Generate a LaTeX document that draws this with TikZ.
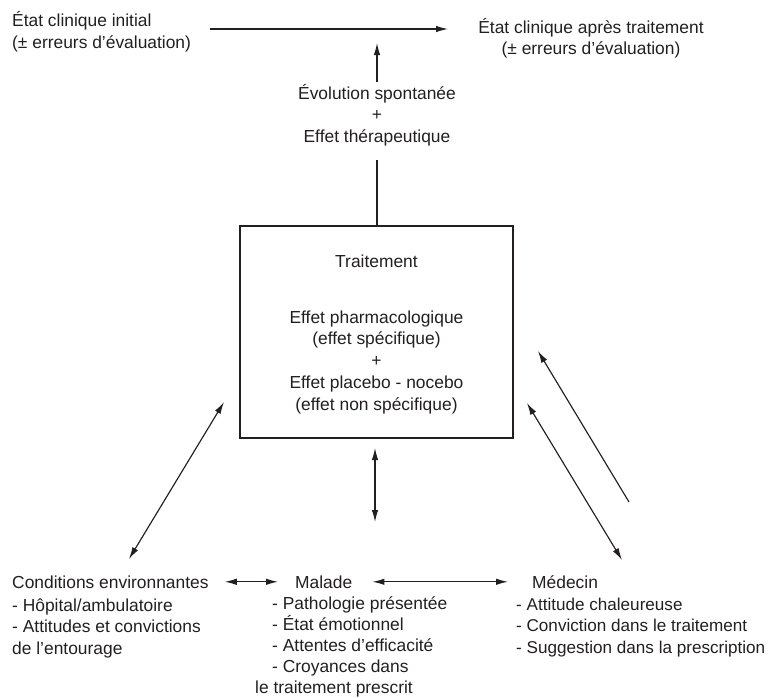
\documentclass[tikz,border=0pt]{standalone}
\usepackage{fontspec}
\setmainfont{Liberation Sans}
\usetikzlibrary{arrows.meta}
\definecolor{ink}{HTML}{231F20}
% fixed first-line height so every block's top edge is predictable
\newcommand\firstln{\rule{0pt}{17pt}}
\begin{document}
\begin{tikzpicture}[x=1pt,y=-1pt,
  txt/.style={inner sep=0pt, font=\fontsize{17.4}{21.75}\selectfont, text=ink},
  lft/.style={txt, align=left, anchor=north west},
  ctr/.style={txt, align=center, anchor=north},
  head/.style={txt, anchor=base west},
  link/.style={draw=ink, line width=1.15pt},
  tip/.style={link, -{Latex[length=12pt,width=6.5pt]}},
  tips/.style={link, {Latex[length=12pt,width=6.5pt]}-{Latex[length=12pt,width=6.5pt]}},
]
\useasboundingbox (0,0) rectangle (770,697);

% --- clinical states -------------------------------------------------
\node[lft] (etat0) at (12,9.5)
  {\firstln État clinique initial\\(± erreurs d’évaluation)};
\node[ctr] (etat1) at (591,16)
  {\firstln État clinique après traitement\\(± erreurs d’évaluation)};
\coordinate (s0) at (210,29);
\coordinate (s1) at (448,29);
\draw[tip] (s0) -- (s1);

% --- evolution -------------------------------------------------------
\node[ctr] (evol) at (377,82)
  {\firstln Évolution spontanée\\+\\Effet thérapeutique};
\coordinate (up) at (377,43);
\draw[tip] (evol.north) -- (up);

% --- treatment box ---------------------------------------------------
\node[txt, align=center, draw=ink, line width=1.2pt,
      minimum width=273pt, minimum height=212pt] (trait) at (376.5,332)
  {\firstln Traitement\\[34pt]
   Effet pharmacologique\\(effet spécifique)\\+\\
   Effet placebo - nocebo\\(effet non spécifique)};
\draw[link, shorten <=13pt] (evol.south) -- (evol.south |- trait.north);

% --- bottom: environment, patient, physician ------------------------
\node[head] (condT) at (12,588) {Conditions environnantes};
\node[lft] (condL) at (12,594)
  {\firstln - Hôpital/ambulatoire\\- Attitudes et convictions\\de l’entourage};

\node[head] (malT) at (295,588) {Malade};
\node[lft, font=\fontsize{17.4}{21}\selectfont] (malL) at (272,592)
  {\firstln - Pathologie présentée\\- État émotionnel\\- Attentes d’efficacité\\
   - Croyances dans\\\hspace*{-17pt}le traitement prescrit};

\node[head] (medT) at (532,588) {Médecin};
\node[lft, font=\fontsize{17.1}{21.5}\selectfont] (medL) at (516,593)
  {\firstln - Attitude chaleureuse\\- Conviction dans le traitement\\
   - Suggestion dans la prescription};

\draw[tips, shorten <=16pt, shorten >=17pt] (condT.east) -- (condT.east -| malT.west);
\draw[tips, shorten <=20pt, shorten >=24pt] (malT.east) -- (malT.east -| medT.west);

% --- influence arrows ------------------------------------------------
\coordinate (bt) at (375,448);
\coordinate (bb) at (375,522);
\draw[tips] (bt) -- (bb);

\coordinate (lt) at (224,402);
\coordinate (lb) at (129,559);
\draw[tips] (lt) -- (lb);

\coordinate (rt) at (527,403);
\coordinate (rb) at (622,560);
\draw[tips] (rt) -- (rb);

\coordinate (ut) at (538,351);
\coordinate (ub) at (629,502);
\draw[tip] (ub) -- (ut);
\end{tikzpicture}
\end{document}
